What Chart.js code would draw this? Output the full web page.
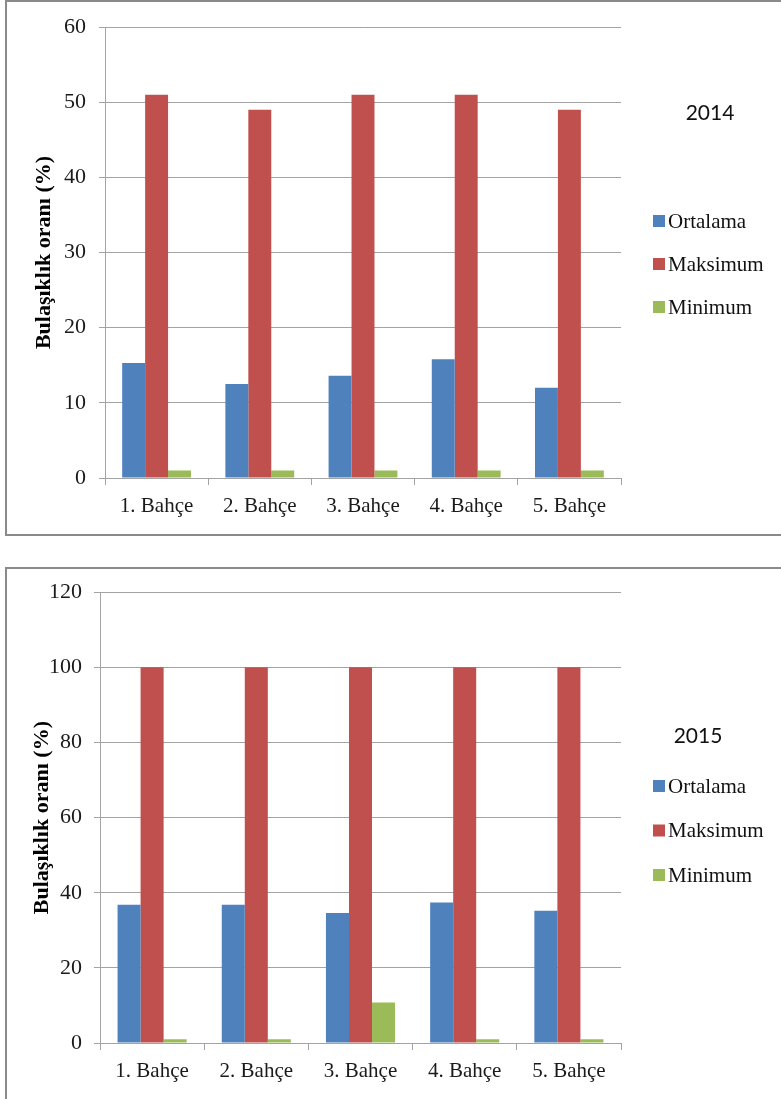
<!DOCTYPE html>
<html>
<head>
<meta charset="utf-8">
<script src="https://cdn.jsdelivr.net/npm/chart.js@4/dist/chart.umd.min.js"></script>
<style>
  html, body { margin: 0; padding: 0; background: #fff; width: 781px; height: 1099px; overflow: hidden; }
  .frame { position: absolute; border: 2px solid #8a8a8a; box-sizing: border-box; }
  canvas { position: absolute; left: 0; }
</style>
</head>
<body>
<div class="frame" style="left:5px; top:0px; width:820px; height:536px;"></div>
<div class="frame" style="left:5px; top:567px; width:820px; height:560px;"></div>
<canvas id="c2014" width="781" height="537" style="top:0px;"></canvas>
<canvas id="c2015" width="781" height="532" style="top:567px;"></canvas>
<script>
// Gardens (bahçe) on the x axis
const categories = ['1. Bahçe', '2. Bahçe', '3. Bahçe', '4. Bahçe', '5. Bahçe'];
const seriesNames = ['Ortalama', 'Maksimum', 'Minimum'];
const seriesColors = ['#4F81BD', '#C0504D', '#9BBB59'];
const yAxisTitle = 'Bulaşıklık oranı (%)';
const years = ['2014', '2015'];

// 2014 infestation rates (%)
const ortalama2014 = [15.3, 12.5, 13.6, 15.8, 12.0];
const maksimum2014 = [51, 49, 51, 51, 49];
const minimum2014 = [1, 1, 1, 1, 1];
const yTicks2014 = [0, 10, 20, 30, 40, 50, 60];

// 2015 infestation rates (%)
const ortalama2015 = [36.8, 36.8, 34.6, 37.4, 35.2];
const maksimum2015 = [100, 100, 100, 100, 100];
const minimum2015 = [1, 1, 10.8, 1, 1];
const yTicks2015 = [0, 20, 40, 60, 80, 100, 120];

const SERIF = '"Liberation Serif", "Times New Roman", serif';
const GRID = '#a3a3a3';

// Side legend with a year heading, drawn next to the plot area
const sideLegend = {
  id: 'sideLegend',
  afterDraw(chart, args, opts) {
    const ctx = chart.ctx;
    ctx.save();
    ctx.fillStyle = '#111';
    ctx.font = '21px Lato, "Liberation Sans", sans-serif';
    ctx.textAlign = 'center';
    ctx.textBaseline = 'middle';
    ctx.fillText(opts.year, opts.yearX, opts.yearY);
    ctx.font = '21px ' + SERIF;
    ctx.textAlign = 'left';
    chart.data.datasets.forEach((ds, i) => {
      const y = opts.itemY + i * opts.itemGap;
      ctx.fillStyle = ds.backgroundColor;
      ctx.fillRect(opts.boxX, y - 6, 12, 12);
      ctx.fillStyle = '#111';
      ctx.fillText(ds.label, opts.boxX + 15, y + 1);
    });
    ctx.restore();
  }
};

function buildChart(id, series, ticks, geo, legendOpts) {
  const datasets = series.map((vals, i) => ({
    label: seriesNames[i],
    data: vals,
    backgroundColor: seriesColors[i],
    borderWidth: 0,
    categoryPercentage: geo.catPct,
    barPercentage: 1.0
  }));
  return new Chart(document.getElementById(id), {
    type: 'bar',
    data: { labels: categories, datasets },
    options: {
      responsive: false,
      animation: false,
      devicePixelRatio: 1,
      layout: { padding: { top: geo.top, right: geo.right, bottom: 0, left: 0 } },
      plugins: {
        legend: { display: false },
        tooltip: { enabled: false },
        sideLegend: legendOpts
      },
      scales: {
        x: {
          grid: { drawOnChartArea: false, drawTicks: true, tickLength: 7, color: GRID, offset: true },
          border: { color: GRID, width: 1 },
          ticks: { font: { family: SERIF, size: 21 }, color: '#1a1a1a', padding: 9, maxRotation: 0 },
          afterFit(scale) { scale.height = geo.xHeight; }
        },
        y: {
          min: 0,
          max: ticks[ticks.length - 1],
          afterBuildTicks(scale) { scale.ticks = ticks.map(v => ({ value: v })); },
          grid: { color: GRID, tickLength: 6, drawTicks: true },
          border: { color: GRID, width: 1 },
          ticks: { font: { family: SERIF, size: 22 }, color: '#1a1a1a', padding: geo.yPad },
          title: {
            display: true,
            text: yAxisTitle,
            font: { family: SERIF, size: 22, weight: 'bold' },
            color: '#000',
            padding: { top: geo.titlePad, bottom: 0 }
          },
          afterFit(scale) { scale.width = geo.yWidth; }
        }
      }
    },
    plugins: [sideLegend]
  });
}

buildChart('c2014', [ortalama2014, maksimum2014, minimum2014], yTicks2014,
  { top: 27, right: 160, xHeight: 59, yWidth: 105, yPad: 13, titlePad: 31, catPct: 0.667 },
  { year: years[0], yearX: 710, yearY: 113, boxX: 653, itemY: 221, itemGap: 43 });

buildChart('c2015', [ortalama2015, maksimum2015, minimum2015], yTicks2015,
  { top: 24, right: 160, xHeight: 56, yWidth: 100, yPad: 12, titlePad: 29, catPct: 0.663 },
  { year: years[1], yearX: 698, yearY: 169, boxX: 653, itemY: 219, itemGap: 44.5 });
</script>
</body>
</html>
